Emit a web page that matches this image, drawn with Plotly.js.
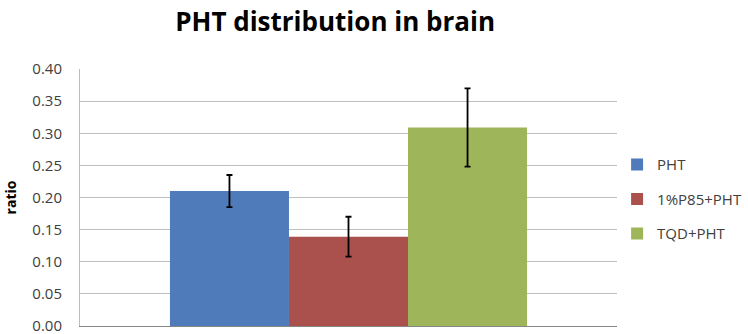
<!DOCTYPE html>
<html>
<head>
<meta charset="utf-8">
<script src="https://cdn.plot.ly/plotly-3.0.1.min.js"></script>
<style>html,body{margin:0;padding:0;background:#fff;}#chart{width:748px;height:334px;}</style>
</head>
<body>
<div id="chart"></div>
<script>
const categories = ['brain'];
const seriesNames = ['PHT', '1%P85+PHT', 'TQD+PHT'];
const seriesValues = [[0.21], [0.139], [0.309]];
const seriesErrors = [[0.025], [0.031], [0.061]];
const seriesColors = ['#4F7BBA', '#AA504D', '#9FB55A'];
const yTickVals = [0, 0.05, 0.10, 0.15, 0.20, 0.25, 0.30, 0.35, 0.40];
const yTickText = ['0.00', '0.05', '0.10', '0.15', '0.20', '0.25', '0.30', '0.35', '0.40'];

const FONT = 'Open Sans, Noto Sans, sans-serif';
const data = seriesNames.map((name, i) => ({
  type: 'bar',
  name: name,
  x: categories,
  y: seriesValues[i],
  legendgroup: 'g' + i,
  marker: {color: seriesColors[i], line: {width: 0}},
  error_y: {type: 'data', array: seriesErrors[i], visible: true, color: '#000000', thickness: 1.8, width: 3}
}));

const layout = {
  width: 748, height: 334,
  margin: {l: 80, r: 131, t: 69, b: 8, autoexpand: false},
  paper_bgcolor: '#ffffff', plot_bgcolor: '#ffffff',
  title: {text: '<b>PHT distribution in brain</b>', font: {family: FONT, size: 26, color: '#000000'}, x: 0.448, xanchor: 'center', y: 0.935, yanchor: 'middle'},
  barmode: 'group', bargap: 0.335, bargroupgap: 0,
  showlegend: true,
  legend: {xref: 'container', yref: 'container', x: 0.825, xanchor: 'left', y: 0.556, yanchor: 'top',
           font: {family: FONT, size: 15, color: '#404040'}, tracegroupgap: 12, bgcolor: 'rgba(0,0,0,0)'},
  xaxis: {showticklabels: false, showgrid: false, zeroline: false, showline: true, linecolor: '#868686', linewidth: 1, ticks: ''},
  yaxis: {range: [0, 0.4], tickvals: yTickVals, ticktext: yTickText, showgrid: true, gridcolor: '#bdbdbd', gridwidth: 1,
          zeroline: false, showline: true, linecolor: '#bdbdbd', linewidth: 1, ticks: '', ticklabelstandoff: 14,
          ticklabeloverflow: 'allow',
          tickfont: {family: FONT, size: 15, color: '#404040'},
          title: {text: '<b>ratio</b>', font: {family: FONT, size: 14, color: '#000000'}, standoff: 12}}
};

Plotly.newPlot('chart', data, layout, {displayModeBar: false, staticPlot: true});
</script>
</body>
</html>
